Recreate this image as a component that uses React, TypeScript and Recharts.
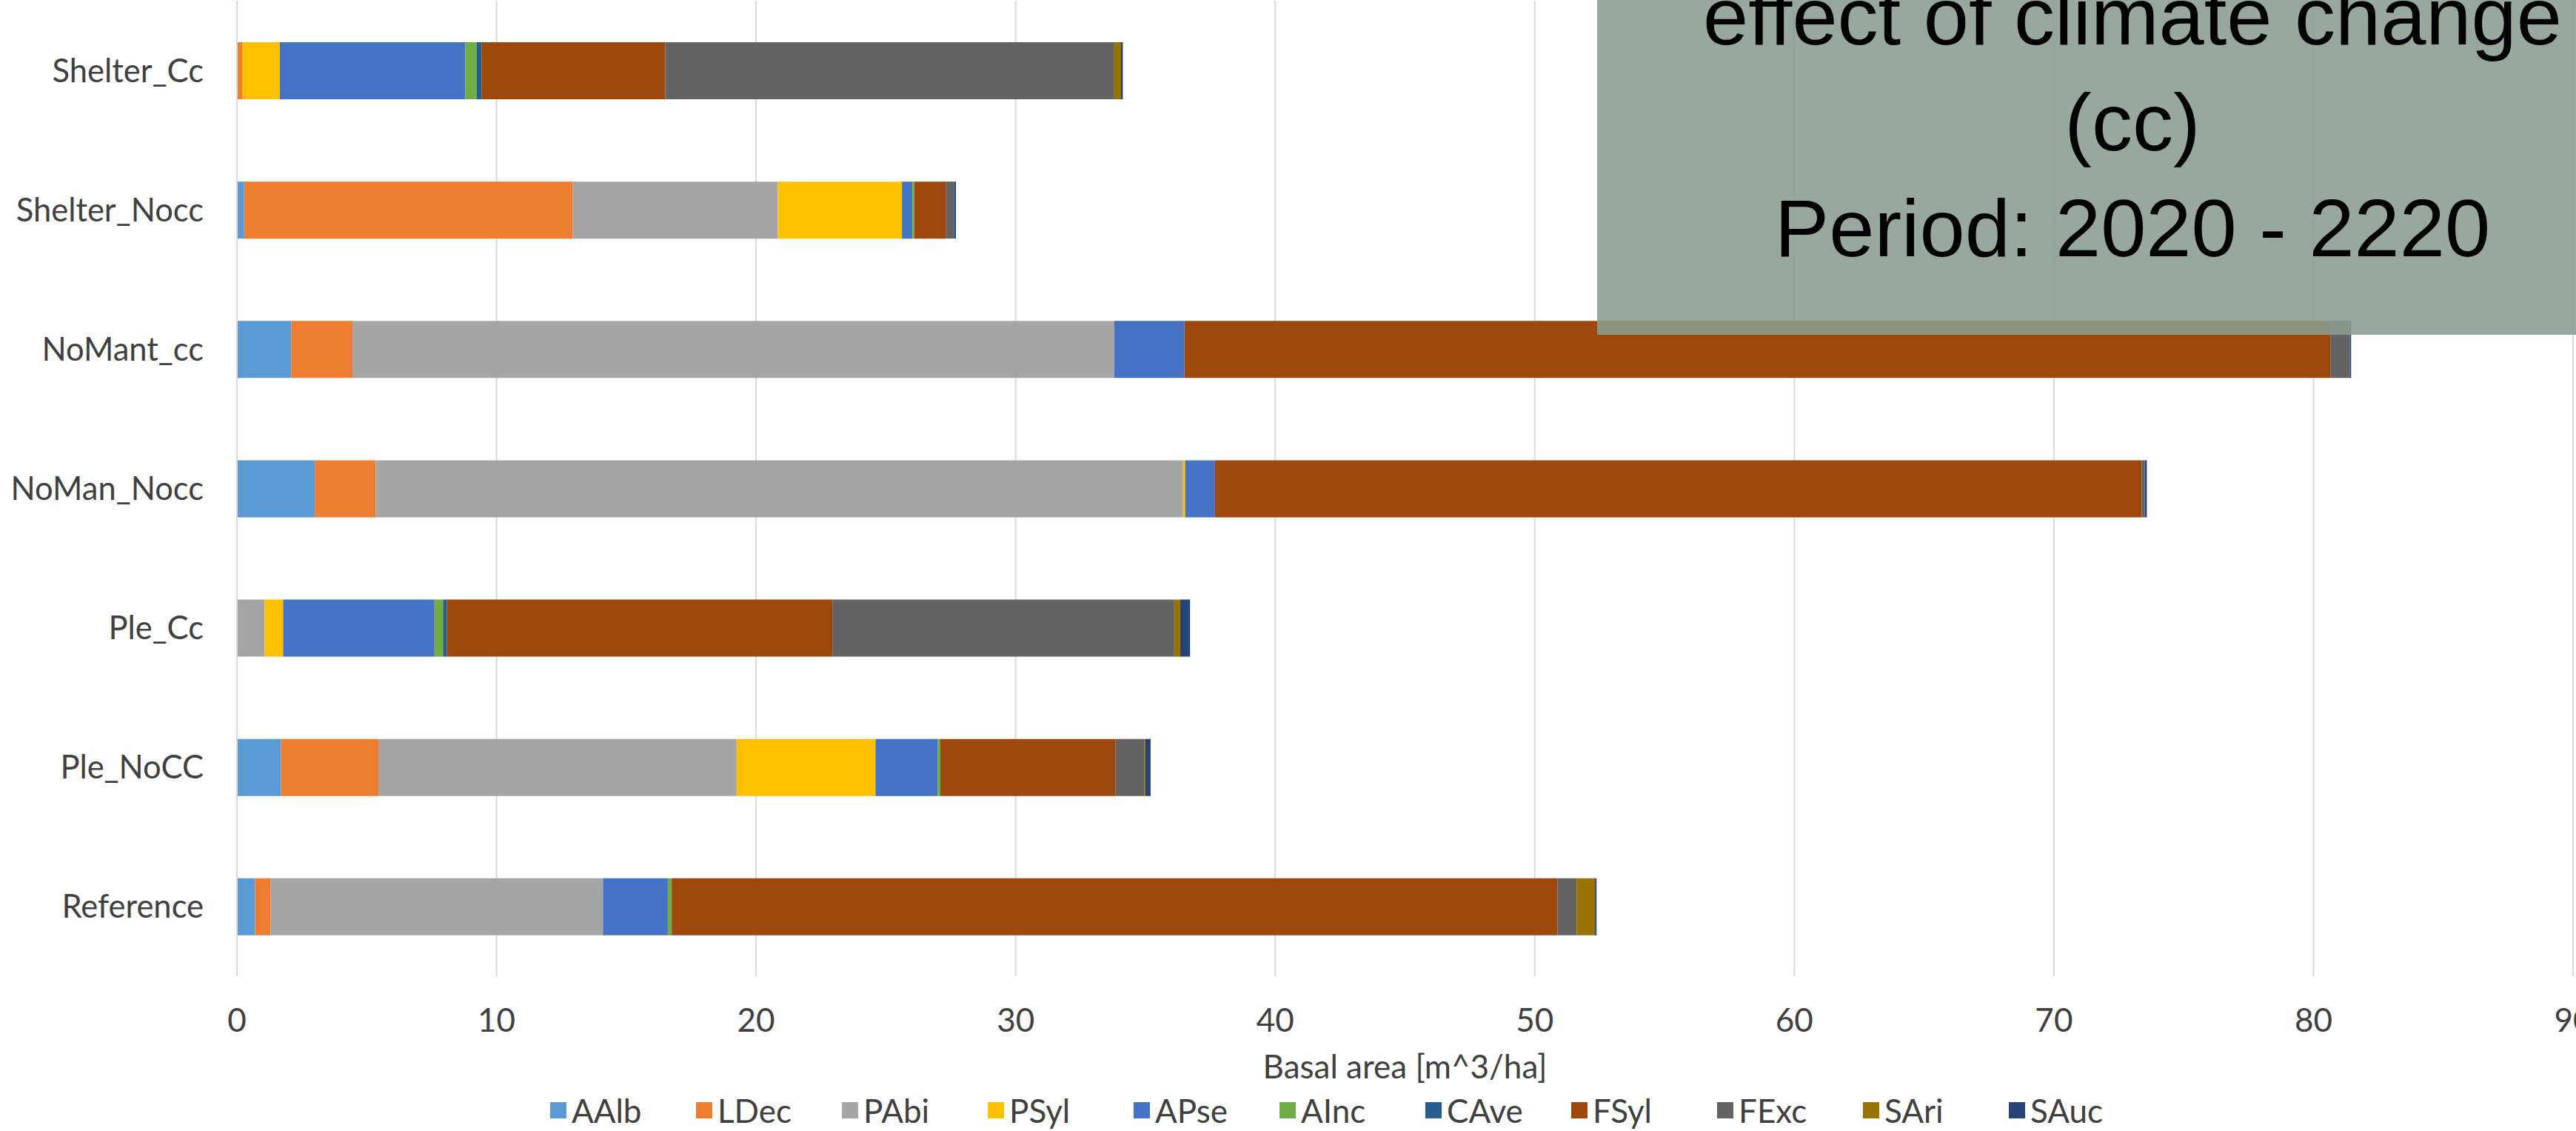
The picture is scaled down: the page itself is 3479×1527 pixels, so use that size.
import { BarChart, Bar, XAxis, YAxis, CartesianGrid, Legend } from 'recharts'

const categories = ['Shelter_Cc', 'Shelter_Nocc', 'NoMant_cc', 'NoMan_Nocc', 'Ple_Cc', 'Ple_NoCC', 'Reference']

// basal area per species, same order as categories
const aalb = [0, 0.28, 2.09, 3.0, 0, 1.7, 0.7]
const ldec = [0.2, 12.66, 2.36, 2.35, 0, 3.75, 0.6]
const pabi = [0, 7.9, 29.35, 31.1, 1.07, 13.8, 12.8]
const psyl = [1.45, 4.78, 0, 0.08, 0.71, 5.35, 0]
const apse = [7.15, 0.4, 2.7, 1.15, 5.83, 2.4, 2.5]
const ainc = [0.43, 0.07, 0, 0, 0.33, 0.1, 0.15]
const cave = [0.19, 0, 0, 0, 0.15, 0, 0]
const fsyl = [7.08, 1.23, 44.15, 35.7, 14.85, 6.75, 34.13]
const fexc = [17.3, 0.31, 0.75, 0.12, 13.17, 1.1, 0.73]
const sari = [0.26, 0, 0, 0, 0.23, 0.05, 0.71]
const sauc = [0.07, 0.07, 0.05, 0.08, 0.38, 0.2, 0.06]

const seriesNames = ['AAlb', 'LDec', 'PAbi', 'PSyl', 'APse', 'AInc', 'CAve', 'FSyl', 'FExc', 'SAri', 'SAuc']
const seriesValues = [aalb, ldec, pabi, psyl, apse, ainc, cave, fsyl, fexc, sari, sauc]
const seriesColors = ['#5B9BD5', '#ED7D31', '#A5A5A5', '#FFC000', '#4472C4', '#70AD47', '#255E91', '#9E480E', '#636363', '#997300', '#264478']

const xTicks = [0, 10, 20, 30, 40, 50, 60, 70, 80, 90]
const noteLines = ['effect of climate change', '(cc)', 'Period: 2020 - 2220']

const data = categories.map((name, i) => {
  const row: Record<string, string | number> = { name }
  seriesNames.forEach((s, k) => {
    row[s] = seriesValues[k][i]
  })
  return row
})

const FONT = 'Lato, "Liberation Sans", sans-serif'
const TEXT = '#404040'

function LegendRow({ payload }: any) {
  // keep the series order instead of the alphabetical one
  const items = [...(payload ?? [])].sort(
    (a: any, b: any) => seriesNames.indexOf(a.value) - seriesNames.indexOf(b.value),
  )
  return (
    <div style={{ display: 'flex', paddingLeft: 743, fontFamily: FONT, fontSize: 44, color: TEXT, lineHeight: '44px' }}>
      {items.map((p: any) => (
        <div key={p.value} style={{ width: 197, display: 'flex', alignItems: 'center' }}>
          <span style={{ display: 'inline-block', width: 22, height: 22, background: p.color, marginRight: 7 }} />
          <span>{p.value}</span>
        </div>
      ))}
    </div>
  )
}

export default function App() {
  return (
    <div style={{ position: 'fixed', left: 0, top: 0, width: 3479, height: 1527, overflow: 'hidden', background: '#fff' }}>
      <BarChart
        width={3479}
        height={1527}
        data={data}
        layout="vertical"
        margin={{ top: 1, right: 4, left: 0, bottom: 0 }}
      >
        <CartesianGrid horizontal={false} stroke="#D9D9D9" strokeWidth={2} />
        <XAxis
          type="number"
          domain={[0, 90]}
          ticks={xTicks}
          interval={0}
          height={209}
          axisLine={false}
          tickLine={false}
          tickSize={0}
          tickMargin={44}
          tick={{ fontSize: 44, fill: TEXT, fontFamily: FONT }}
          label={{ value: 'Basal area [m^3/ha]', position: 'insideTop', offset: 107, fontSize: 44, fill: TEXT, fontFamily: FONT }}
        />
        <YAxis
          type="category"
          dataKey="name"
          width={320}
          axisLine={{ stroke: '#D9D9D9', strokeWidth: 2 }}
          tickLine={false}
          tickSize={0}
          tickMargin={45}
          tick={{ fontSize: 43.5, fill: TEXT, fontFamily: FONT }}
        />
        <Legend
          layout="horizontal"
          verticalAlign="middle"
          align="center"
          wrapperStyle={{ top: 1477, left: 0, width: 3479 }}
          content={<LegendRow />}
        />
        {seriesNames.map((s, k) => (
          <Bar key={s} dataKey={s} stackId="a" fill={seriesColors[k]} barSize={77} isAnimationActive={false} />
        ))}
      </BarChart>
      <div
        style={{
          position: 'absolute',
          left: 2157,
          top: 0,
          width: 1446,
          height: 452,
          background: 'rgba(138,156,142,0.88)',
          overflow: 'hidden',
        }}
      >
        <div
          style={{
            position: 'absolute',
            top: -50,
            left: 0,
            width: '100%',
            textAlign: 'center',
            fontFamily: '"Liberation Sans", Arial, sans-serif',
            fontSize: 110,
            lineHeight: '143px',
            color: '#000',
          }}
        >
          {noteLines.map((l) => (
            <div key={l}>{l}</div>
          ))}
        </div>
      </div>
    </div>
  )
}
